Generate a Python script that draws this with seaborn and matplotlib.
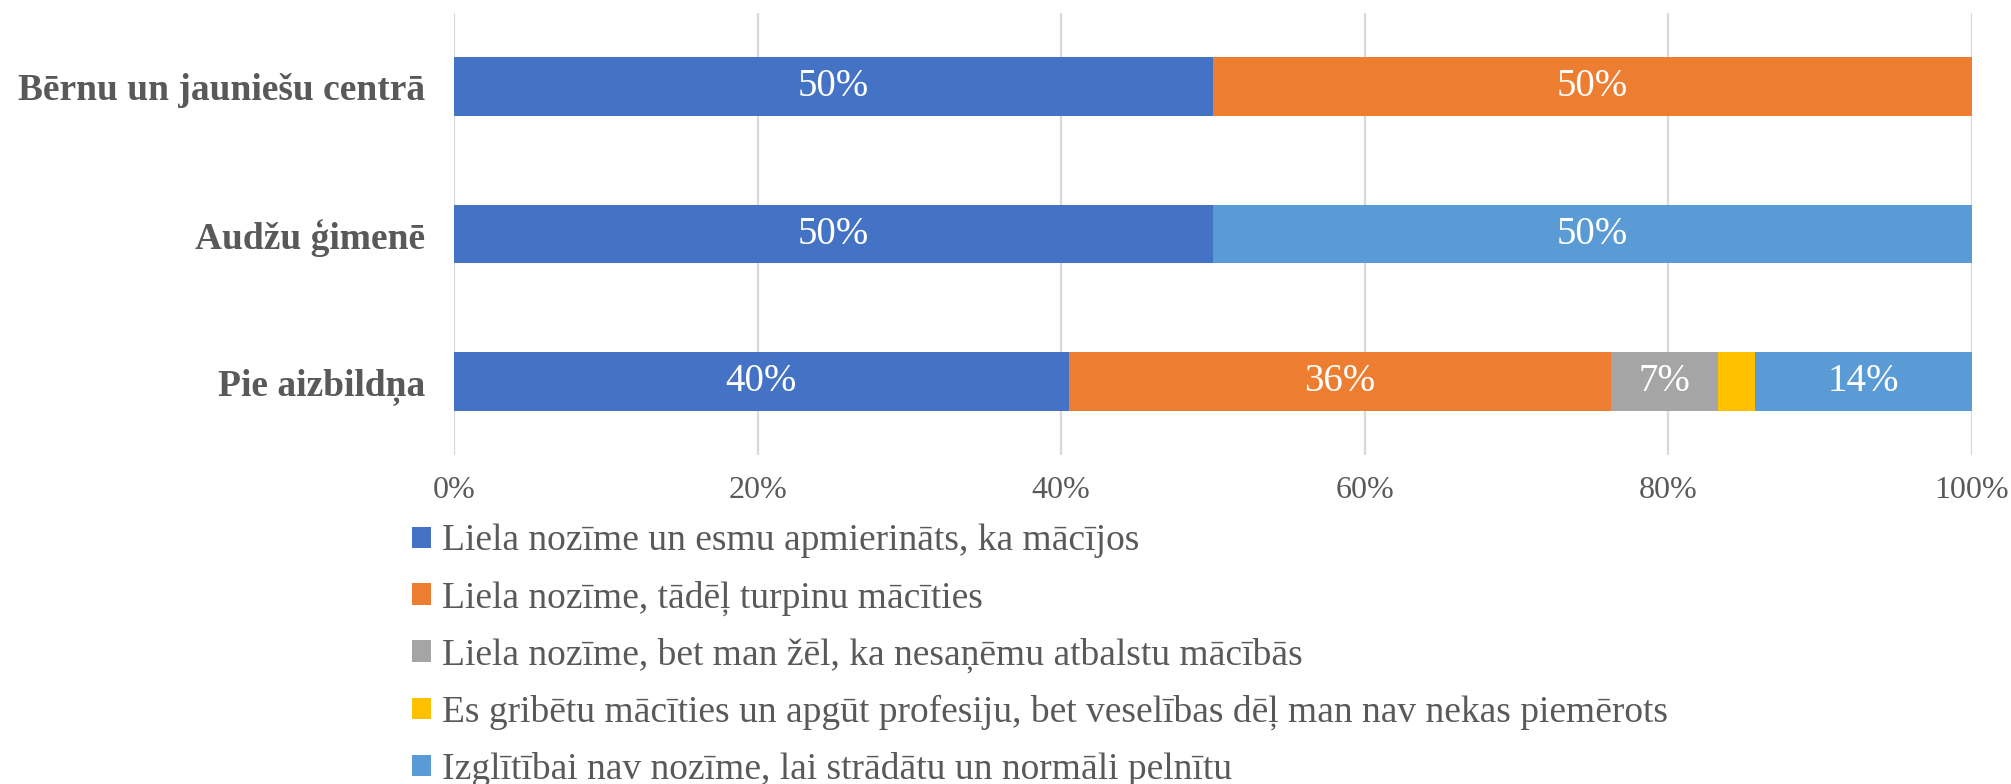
import matplotlib
matplotlib.use("Agg")
import matplotlib.pyplot as plt
import seaborn as sns
import numpy as np
import pandas as pd
from matplotlib.patches import Patch

categories = ["Bērnu un jauniešu centrā", "Audžu ģimenē", "Pie aizbildņa"]
series_names = [
    "Liela nozīme un esmu apmierināts, ka mācījos",
    "Liela nozīme, tādēļ turpinu mācīties",
    "Liela nozīme, bet man žēl, ka nesaņēmu atbalstu mācībās",
    "Es gribētu mācīties un apgūt profesiju, bet veselības dēļ man nav nekas piemērots",
    "Izglītībai nav nozīme, lai strādātu un normāli pelnītu",
]
s1 = [50.0, 50.0, 40.5]
s2 = [50.0, 0.0, 35.7]
s3 = [0.0, 0.0, 7.1]
s4 = [0.0, 0.0, 2.4]
s5 = [0.0, 50.0, 14.3]
colors = ["#4472C4", "#ED7D31", "#A5A5A5", "#FFC000", "#5B9BD5"]

sns.set_theme(style="white")
plt.rcParams["font.family"] = ["Liberation Serif", "DejaVu Serif"]

W, H = 2011, 784
fig = plt.figure(figsize=(W / 100, H / 100), dpi=100)
ax = fig.add_axes([454 / W, (H - 455) / H, (1972 - 454) / W, (455 - 13) / H])

vals = np.array([s1, s2, s3, s4, s5])
cum = np.cumsum(vals, axis=0)
for i in range(len(series_names) - 1, -1, -1):
    df = pd.DataFrame({"cat": categories, "val": cum[i]})
    sns.barplot(data=df, x="val", y="cat", order=categories, color=colors[i],
                saturation=1, width=0.40, orient="h", ax=ax, edgecolor="none")

# data labels
for i in range(len(series_names)):
    for j, c in enumerate(categories):
        v = vals[i, j]
        if v >= 5:
            xc = cum[i, j] - v / 2
            ax.text(xc, j, f"{v:.0f}%", ha="center", va="center",
                    color="white", fontsize=28)

ax.set_xlim(0, 100)
ax.set_ylim(2.5, -0.5)
ax.set_xticks([0, 20, 40, 60, 80, 100])
ax.set_xticklabels([f"{t}%" for t in [0, 20, 40, 60, 80, 100]])
ax.set_xlabel("")
ax.set_ylabel("")
ax.grid(axis="x", color="#D9D9D9", linewidth=1.6)
ax.set_axisbelow(True)
for s in ax.spines.values():
    s.set_visible(False)
ax.tick_params(axis="x", colors="#595959", labelsize=23, length=0, pad=15)
ax.tick_params(axis="y", colors="#595959", labelsize=27, length=0, pad=21)
for lab in ax.get_yticklabels():
    lab.set_fontweight("bold")

handles = [Patch(facecolor=c, edgecolor="none") for c in colors]
fig.legend(handles, series_names, loc="upper left",
           bbox_to_anchor=(412 / W, (H - 524) / H), frameon=False,
           fontsize=27, labelcolor="#595959", handlelength=0.5, handleheight=0.5,
           handletextpad=0.3, labelspacing=0.58, borderpad=0, borderaxespad=0)

fig.savefig("out.png", dpi=100)
